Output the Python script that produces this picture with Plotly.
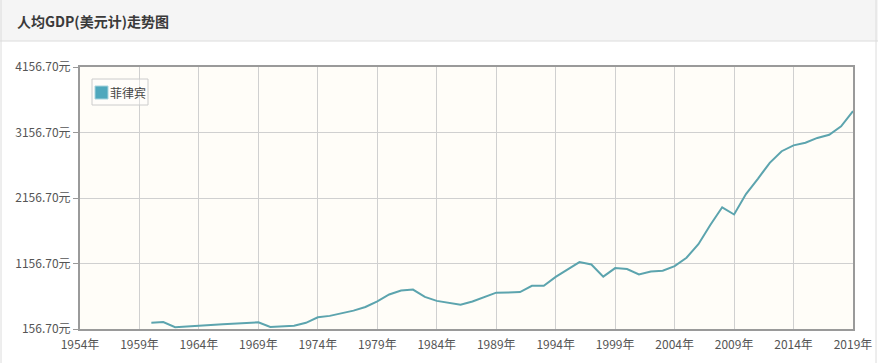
import plotly.graph_objects as go

years = list(range(1960, 2020))
gdp_per_capita = [
    254, 262, 184, 199, 207, 218, 228, 236, 246, 258,
    187, 199, 208, 251, 335, 357, 393, 437, 493, 579,
    684, 744, 759, 647, 586, 557, 528, 576, 641, 712,
    715, 720, 817, 818, 953, 1072, 1178, 1142, 957, 1087,
    1073, 990, 1036, 1047, 1117, 1245, 1452, 1744, 2015, 1905,
    2217, 2450, 2694, 2871, 2960, 3001, 3074, 3123, 3252, 3485,
]
series_name = "菲律宾"
title_text = "人均GDP(美元计)走势图"
y_tickvals = [156.7, 1156.7, 2156.7, 3156.7, 4156.7]
y_ticktext = ["156.70元", "1156.70元", "2156.70元", "3156.70元", "4156.70元"]
x_tickvals = list(range(1954, 2020, 5))
x_ticktext = [f"{y}年" for y in x_tickvals]

W, H = 878, 363
L, R, T, B = 80, 853, 67, 329
pw, ph = R - L, B - T

def px(x):
    return (x - L) / pw

def py(y):
    return (B - y) / ph

line_color = "#5ca4ae"
font_family = "Noto Sans CJK SC, DejaVu Sans, sans-serif"

fig = go.Figure()
fig.add_trace(go.Scatter(
    x=years, y=gdp_per_capita, mode="lines", name=series_name,
    line=dict(color=line_color, width=2),
    showlegend=False, hoverinfo="x+y",
))

fig.update_layout(
    width=W, height=H,
    margin=dict(l=L, r=W - R, t=T, b=H - B, pad=0),
    paper_bgcolor="white",
    plot_bgcolor="#fffdf8",
    font=dict(family=font_family, size=12, color="#555"),
    xaxis=dict(
        range=[1954, 2019], tickvals=x_tickvals, ticktext=x_ticktext,
        showgrid=True, gridcolor="#d0d0d0", gridwidth=1,
        showline=True, linecolor="#9a9a9a", linewidth=2, mirror=True,
        ticks="", zeroline=False, tickfont=dict(size=12, color="#555"),
        ticklabelstandoff=4, automargin=False,
    ),
    yaxis=dict(
        range=[156.7, 4156.7], tickvals=y_tickvals, ticktext=y_ticktext,
        showgrid=True, gridcolor="#d0d0d0", gridwidth=1,
        showline=True, linecolor="#9a9a9a", linewidth=2, mirror=True,
        ticks="outside", ticklen=5, tickcolor="#999", zeroline=False,
        tickfont=dict(size=12, color="#555"), automargin=False,
    ),
    shapes=[
        dict(type="rect", xref="paper", yref="paper",
             x0=px(0), x1=px(W), y0=py(41), y1=py(0),
             fillcolor="#f5f5f5", line=dict(width=0), layer="below"),
        dict(type="line", xref="paper", yref="paper",
             x0=px(0), x1=px(W), y0=py(41), y1=py(41),
             line=dict(color="#dcdcdc", width=1)),
        dict(type="line", xref="paper", yref="paper",
             x0=px(1), x1=px(1), y0=py(H), y1=py(0),
             line=dict(color="#dcdcdc", width=1)),
        dict(type="line", xref="paper", yref="paper",
             x0=px(876), x1=px(876), y0=py(H), y1=py(0),
             line=dict(color="#dcdcdc", width=1)),
        # legend box
        dict(type="rect", xref="paper", yref="paper",
             x0=px(92), x1=px(148), y0=py(105), y1=py(79),
             fillcolor="rgba(255,255,255,0.3)", line=dict(color="#cccccc", width=1)),
        dict(type="rect", xref="paper", yref="paper",
             x0=px(95), x1=px(108), y0=py(99), y1=py(86),
             fillcolor="#4fa8bd", line=dict(color="#a8d4de", width=1)),
    ],
    annotations=[
        dict(text="<b>" + title_text + "</b>", xref="paper", yref="paper",
             x=px(15), y=py(21), xanchor="left", yanchor="middle",
             showarrow=False, font=dict(size=14, color="#3a3a3a", family=font_family)),
        dict(text=series_name, xref="paper", yref="paper",
             x=px(108), y=py(92.5), xanchor="left", yanchor="middle",
             showarrow=False, font=dict(size=12, color="#444", family=font_family)),
    ],
)

post = (
    "document.documentElement.style.margin='0';"
    "document.documentElement.style.overflow='hidden';"
    "document.documentElement.style.height='363px';"
    "document.body.style.margin='0';"
    "document.body.style.overflow='hidden';"
    "document.body.style.height='363px';"
    "document.querySelectorAll('body > div').forEach(function(d){"
    "d.style.height='363px';d.style.overflow='hidden';d.style.lineHeight='0';});"
)
fig.write_html("out.html", config={"displayModeBar": False}, post_script=post)
